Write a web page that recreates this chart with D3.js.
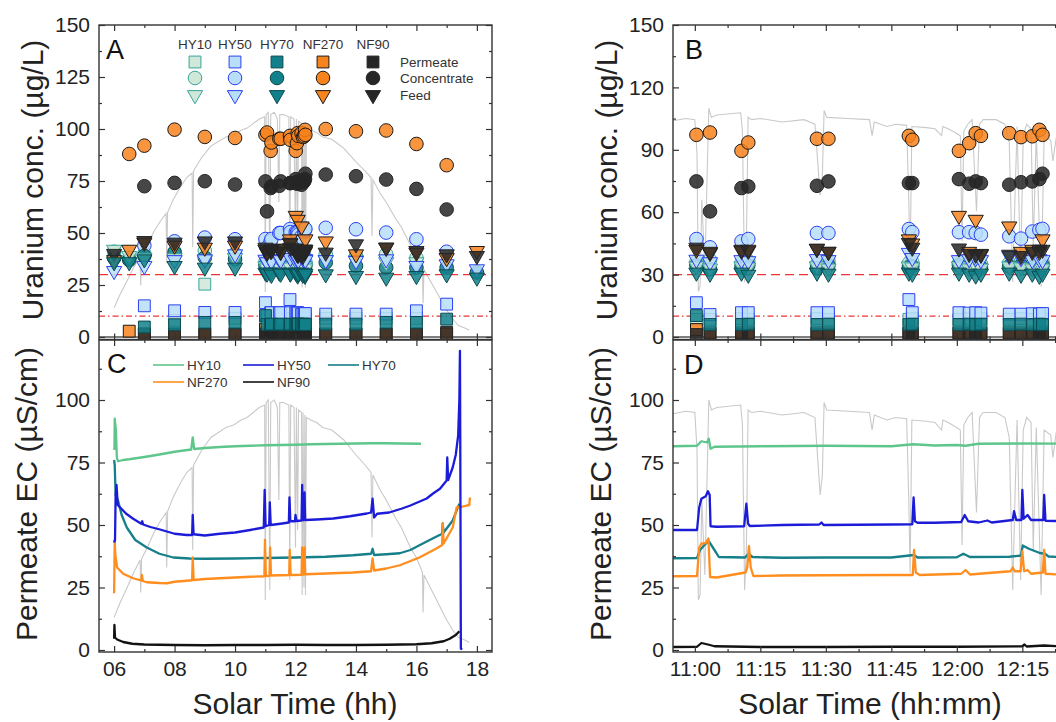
<!DOCTYPE html>
<html>
<head>
<meta charset="utf-8">
<script src="https://cdn.jsdelivr.net/npm/d3@7/dist/d3.min.js"></script>
<style>
  body { margin:0; background:#fff; }
  svg text { font-family: "Liberation Sans", Arial, sans-serif; }
</style>
</head>
<body>
<svg id="chart" width="1056" height="722"></svg>
<script>
// ---------------- data ----------------
var membranes = ["HY10","HY50","HY70","NF270","NF90"];
var sampleKinds = ["Permeate","Concentrate","Feed"];

// sampling times (solar time, decimal hours)
var sampleTime = [6.0, 6.5, 7.0, 8.0, 9.0, 10.0,
  11.006, 11.058, 11.178, 11.204, 11.466, 11.51, 11.817, 11.83, 12.008, 12.047, 12.072, 12.092, 12.2, 12.245, 12.288, 12.315, 12.327,
  13.0, 14.0, 15.0, 16.0, 17.0, 18.0];

// uranium (ug/L) per membrane and stream
var hy10Perm = [null, null, null, 8, 25.4, 9,
  8.5, 8.5, 8.8, 8.5, 8.8, 8.5, 8.5, 8.8, 8.5, 8.8, 8.5, 8.8, 8.5, 8.8, 8.5, 8.8, 8.5,
  9, 9, 9, 9, null, null];
var hy10Conc = [41, 38, 40, 41, 41.4, 40,
  36, 37, 35.5, 36.5, 35, 36.5, 35.5, 36, 35.5, 35, 36, 35, 35.5, 36, 35, 35.5, 36,
  39.8, 39, 39.8, 38, null, null];
var hy10Feed = [42, 39, 38, 38, 37, 38,
  34, 33, 34, 33.5, 34, 33, 34, 33.5, 34, 33, 34, 33, 34, 33.5, 33, 34, 33,
  37, 37, 36, 36, null, null];
var hy50Perm = [null, null, 15, 12.6, 11.8, 11.8,
  16.5, 10.8, 11.7, 11.7, 11.7, 11.7, 18, 11.7, 11.7, 11.5, 11.7, 11.5, 11, 11, 11.2, 11, 11.3,
  11, 11, 11, 12.6, 15.8, null];
var hy50Conc = [null, null, 44, 46, 47.8, 47,
  47.1, 43.1, 46, 47.1, 50, 50, 51.9, 50.4, 50.4, 50.4, 50, 49.2, 48.4, 47.3, 50.7, 51.5, 52,
  52.5, 51.8, 50.2, 47, 41, null];
var hy50Feed = [31.8, null, 34.2, 37, 37.4, 39.8,
  37.2, 36, 37, 36.5, 37.5, 37, 40.5, 38, 37, 37.5, 38, 37, 39, 38, 37, 37.5, 37,
  37, 36.6, 37.4, 34.2, 35, 32.6];
var hy70Perm = [null, null, 4.8, 5.9, 7, 7,
  10.3, 6, 6, 6.2, 6, 6.2, 6, 6.2, 6, 6.2, 6, 6.2, 6, 6.2, 6, 6.2, 6,
  6.2, 6.2, 7, 7, 8.6, null];
var hy70Conc = [38, 37, 39, 40.6, 38.2, 37.4,
  34.5, 32.5, 33.5, 34.5, 33, 34.5, 33.5, 34, 34.5, 33.5, 34, 33.5, 34, 34.5, 33.5, 34, 34.5,
  35.8, 34.2, 33.4, 33.4, 33.4, 31];
var hy70Feed = [36, 36, 37.4, 34.2, 33.4, 33.4,
  31, 30.5, 31, 30, 31, 30.5, 31, 30.5, 31, 30.5, 29.6, 30.5, 31, 30, 30.5, 29.5, 30.5,
  30.2, 29.4, 28.6, 29.4, 30.2, 28.6];
var nf270Perm = [null, 2.8, 1.5, 1.5, 1.5, 1.5,
  3.6, 2, 2, 2, 2, 2, 2, 2, 2, 2, 2, 2, 2, 2, 2, 2, 2,
  1.5, 1.5, 1.5, 1.5, 1.5, null];
var nf270Conc = [null, 88, 92, 99.7, 96.2, 95.7,
  97.2, 98.3, 89.5, 93.5, 95.3, 95.3, 96.7, 94.8, 89.5, 93.2, 98, 96.7, 98, 96.1, 96.5, 99.6, 97.2,
  100, 98.9, 99.3, 92.8, 82.6, null];
var nf270Feed = [37, 42, 45.4, 44, 43, 44,
  42, 41, 41.5, 42, 42.5, 41, 47, 45, 58.3, 41, 56.4, 40, 53.2, 41, 42, 41, 47,
  46, 39.8, 43, 40.6, 38, 41.4];
var nf90Perm = [null, null, 1.4, 1.2, 1.2, 1.2,
  1.2, 1.2, 1.2, 1.2, 1.2, 1.2, 1.2, 1.2, 1.2, 1.2, 1.2, 1.2, 1.2, 1.2, 1.2, 1.2, 1.2,
  1.2, 1.2, 1.2, 1.2, 2.3, null];
var nf90Conc = [null, null, 72.5, 74.1, 74.9, 73.3,
  74.8, 60.4, 71.6, 72.4, 72.7, 74.8, 74, 74, 75.9, 73.7, 74.8, 74, 73.2, 74.4, 74.8, 75.9, 78.5,
  78.1, 77.3, 75.7, 71.2, 61.3, null];
var nf90Feed = [40, null, 46.2, 45.4, 46, 46,
  43, 40.5, 42, 41.5, 42.4, 41, 45.3, 43, 42.6, 40, 39.6, 39.6, 39.6, 39, 41, 42, 42,
  40.6, 44.6, 43, 41.4, 39.8, 39];

var guideLimits = [30, 10];   // dashed, dash-dot red lines

// permeate EC over the day [hour, uS/cm]
var ecDayHY10 = [[6.01,80],[6.02,92.5],[6.06,88],[6.09,77],[6.13,75.5],[6.3,76],[6.5,76.3],[7.0,77.2],[7.5,78.2],[8.0,79.3],[8.55,80.2],[8.6,85],[8.65,80.4],[9.0,80.8],[9.5,81.2],[10.0,81.5],[10.5,81.7],[11.0,81.9],[11.5,82],[12.0,82.1],[12.5,82.3],[13.0,82.4],[13.5,82.5],[14.0,82.6],[14.5,82.7],[15.0,82.7],[15.5,82.6],[16.15,82.5]];
var ecDayHY50 = [[6.0,43],[6.03,44],[6.05,62],[6.08,66],[6.12,58],[6.2,57],[6.4,54.5],[6.63,52.5],[6.9,50.5],[6.93,51.5],[6.96,50.2],[7.2,49.2],[7.52,48.2],[8.0,46.5],[8.4,46],[8.58,46],[8.6,54],[8.63,46.3],[9.0,45.8],[9.5,46.5],[10.0,47],[10.5,48],[10.95,49],[10.98,64],[11.01,49.5],[11.13,50],[11.15,59],[11.18,50],[11.5,50.5],[11.78,51],[11.8,61],[11.83,51.5],[11.98,51.5],[12.0,54],[12.03,51.6],[12.2,51.8],[12.22,66],[12.24,52],[12.28,52],[12.3,63],[12.32,52],[12.7,52.2],[13.25,52.6],[13.8,53.5],[14.36,54.6],[14.5,55],[14.55,60.5],[14.6,53],[14.7,54.5],[15.1,55],[15.5,56.5],[15.8,57.8],[16.34,60.6],[16.55,62.6],[16.78,64.5],[17.0,67.8],[17.02,77],[17.05,68],[17.2,73],[17.3,78],[17.38,85.7],[17.42,100],[17.44,119.6],[17.45,86],[17.47,0.5],[17.52,0.3]];
var ecDayHY70 = [[6.0,76],[6.02,74],[6.05,62],[6.13,59.8],[6.25,54],[6.42,49],[6.7,44],[7.08,41],[7.5,38.5],[7.96,37],[8.5,36.6],[9.0,36.5],[10.0,36.6],[11.0,36.8],[12.0,37],[13.0,37.3],[13.9,37.9],[14.5,38.5],[14.55,40.5],[14.6,38],[15.0,38.3],[15.45,38.7],[15.8,40],[16.1,41.9],[16.55,44.7],[16.85,46.5],[16.87,50.6],[16.9,47],[17.2,51.8],[17.33,55.8],[17.42,58.5]];
var ecDayNF270 = [[6.0,22.7],[6.02,44],[6.04,38],[6.1,33],[6.3,30.5],[6.63,28.7],[6.9,27.8],[6.92,30],[6.95,27.6],[7.08,27.1],[7.5,26.8],[7.75,26.7],[8.0,27.3],[8.3,27.6],[8.58,27.9],[8.6,37],[8.63,28],[9.0,28.4],[10.0,29],[10.5,29.3],[10.97,29.5],[10.99,44],[11.02,29.6],[11.14,29.7],[11.16,41],[11.19,29.8],[11.79,30],[11.81,40],[11.84,30],[12.2,30.1],[12.22,41],[12.24,30.2],[12.28,30.2],[12.3,41],[12.32,30.3],[13.0,30.6],[13.9,31],[14.5,31.5],[14.55,36.6],[14.6,31.8],[15.0,32.6],[15.45,33.9],[16.1,37],[16.66,40.6],[16.85,42],[16.87,50.6],[16.9,42.6],[17.2,49],[17.33,57],[17.5,57.3],[17.67,57.8],[17.75,58],[17.77,61]];
var ecDayNF90 = [[6.0,4.5],[6.01,10],[6.03,5],[6.1,4.2],[6.3,3.2],[6.6,2.5],[7.0,2.2],[8.0,2],[9.0,1.9],[10.0,2],[11.0,2],[12.0,2.1],[13.0,2],[14.0,2],[15.0,2.1],[16.0,2.3],[16.5,2.7],[16.9,3.5],[17.1,4.5],[17.3,6],[17.42,7.5]];

// solar irradiance (relative, drawn in grey)
var solarDay = [[6.0,13],[6.2,19],[6.43,25],[6.65,31],[6.86,36],[6.88,23],[6.91,36.5],[7.1,41],[7.3,46.5],[7.5,51],[7.72,55],[7.74,33],[7.77,55.5],[7.95,61],[8.18,66.5],[8.4,71],[8.58,73],[8.6,40],[8.63,74],[8.9,80],[9.2,85],[9.45,87],[9.7,89],[9.95,90],[10.2,92],[10.4,93],[10.6,95],[10.8,97],[10.98,98],[11.0,20],[11.03,99],[11.1,100],[11.15,24],[11.18,99],[11.3,100],[11.4,97],[11.45,60],[11.48,99],[11.6,99],[11.78,98],[11.81,28],[11.84,98],[11.95,97],[12.0,41],[12.03,97],[12.07,48],[12.1,96],[12.2,95],[12.22,22],[12.25,95],[12.28,25],[12.31,94],[12.33,22],[12.36,93],[12.5,92],[12.7,91],[12.9,89],[13.2,88],[13.4,86],[13.6,84],[13.8,81],[14.0,78],[14.3,74],[14.5,71],[14.53,45],[14.56,70],[14.8,64],[15.0,60],[15.3,53],[15.5,49],[15.8,41],[16.0,37],[16.2,31],[16.22,15],[16.25,30],[16.5,24],[16.75,18],[17.0,12],[17.2,8],[17.4,5],[17.6,4],[17.75,3]];

// zoomed window, time in minutes after 11:00
var solarZoom = [[-5,94.5],[-2,95.5],[0,95],[0.5,80],[0.8,20],[1.2,22],[1.6,60],[2.3,30],[3.2,100],[3.8,96],[5,97],[10.5,98],[10.9,90],[11.4,24],[11.8,40],[12.2,96],[13,95],[15,95.5],[20,94],[25,95],[27.5,93],[28.2,75],[28.7,62],[29.2,70],[29.6,99],[30.2,96],[35,95.5],[40,95],[40.6,88],[41.1,94],[44,92],[46,93],[48.5,92.5],[49,60],[49.3,31],[49.7,92],[53,91.5],[55,91],[56.5,88],[56.8,92],[58,91],[59,90],[60.8,88],[61.2,42],[61.6,90],[62.5,93],[63.5,95],[64.5,55],[65.2,93],[66,95],[69,95],[71,93],[72,85],[72.8,24],[73.3,60],[73.8,92],[74.6,28],[75.2,88],[76,93],[77,91],[77.5,40],[78.2,89],[79.3,22],[80,88],[81.5,86],[82,77],[83,90],[85,88]];
var ecZoomHY10 = [[-5,81.5],[0.5,81.7],[1.5,83.5],[2.8,83],[3.2,84.5],[3.6,80.5],[4.5,81.3],[15,81.5],[30,81.7],[45,81.5],[50,82.3],[55,81.8],[60,82],[62,81.7],[65,82.5],[75,82.6],[85,82.5]];
var ecZoomHY50 = [[-5,48],[0.5,48],[1.0,57],[1.5,60.5],[2.5,61.5],[3.0,63.5],[3.4,62],[3.6,49.5],[5,49.3],[11.3,49.5],[11.8,58.5],[12.2,50.5],[12.6,49.6],[20,50],[28.5,50.2],[29,51],[29.5,50],[45,50.2],[49.8,50.3],[50.1,61],[50.4,51.5],[51,50.9],[55,50.9],[61,51.2],[61.8,54],[62.6,51.5],[65,51],[67,51.8],[68,51],[72.8,52],[73.1,55.5],[73.6,52],[74.8,52],[75,64],[75.3,52.5],[76.2,54],[77,52],[79.8,52],[80,62],[80.3,51.7],[85,51.5]];
var ecZoomHY70 = [[-5,36.7],[0.5,36.8],[1.2,40],[2.2,42],[3.2,43.5],[4.5,40],[5.5,37.2],[11.5,37],[12.3,38.5],[13.2,37.2],[20,36.9],[30,37],[45,37],[50.2,38],[51,37],[60,37.1],[61.5,38.5],[63,37.2],[72,37.3],[74.7,37.8],[75.1,41.8],[76.5,40.5],[79,38.8],[80.2,38.5],[81,37.4],[85,37]];
var ecZoomNF270 = [[-5,29.5],[0.5,29.6],[1.0,41],[1.5,42.5],[2.5,42.8],[3.1,44.6],[3.5,29.2],[5,29],[11.6,31],[12,33],[12.4,41.5],[12.8,33],[13.4,29.6],[20,29.8],[30,29.9],[45,30],[49.9,30],[50.2,40],[50.6,31],[51.5,30],[61,30.5],[62,32],[63,30.2],[72.3,31.5],[72.8,33],[73.3,31.5],[74.6,31.5],[75,39.5],[75.4,31.5],[76.2,32],[77,30.5],[79.7,31],[80,40],[80.3,30.5],[85,30]];
var ecZoomNF90 = [[-5,1.2],[0.5,1.3],[1.5,2.8],[3,2.2],[4.5,1.5],[15,1.2],[30,1.2],[45,1.3],[60,1.3],[75,1.5],[75.5,2.2],[76,1.4],[80,1.8],[85,1.4]];

// ---------------- styles ----------------
var markerFill   = {HY10:"#cfe8d7", HY50:"#b9defa", HY70:"#12808a", NF270:"#f7831c", NF90:"#262626"};
var markerStroke = {HY10:"#38a49d", HY50:"#2b40f2", HY70:"#0b4a50", NF270:"#1a1a1a", NF90:"#262626"};
var lineColor    = {HY10:"#5ec68b", HY50:"#1c1cd8", HY70:"#16808a", NF270:"#ff8e1e", NF90:"#121212"};
var greyLine = "#c9c9c9", axisColor = "#333", textColor = "#222";

// drawing order: all permeates, then concentrates, then feeds; HY70 on top
var drawOrder = ["HY10","HY50","NF270","NF90","HY70"];
var streamValues = {
  HY10: {Permeate:hy10Perm, Concentrate:hy10Conc, Feed:hy10Feed},
  HY50: {Permeate:hy50Perm, Concentrate:hy50Conc, Feed:hy50Feed},
  HY70: {Permeate:hy70Perm, Concentrate:hy70Conc, Feed:hy70Feed},
  NF270: {Permeate:nf270Perm, Concentrate:nf270Conc, Feed:nf270Feed},
  NF90: {Permeate:nf90Perm, Concentrate:nf90Conc, Feed:nf90Feed}
};
var sampleTable = [];
sampleKinds.forEach(function(k){
  drawOrder.forEach(function(m){ sampleTable.push({m:m, k:k, v:streamValues[m][k]}); });
});
var ecDay = {HY10:ecDayHY10, HY50:ecDayHY50, HY70:ecDayHY70, NF270:ecDayNF270, NF90:ecDayNF90};
var ecZoom = {HY10:ecZoomHY10, HY50:ecZoomHY50, HY70:ecZoomHY70, NF270:ecZoomNF270, NF90:ecZoomNF90};

// ---------------- scales ----------------
var svg = d3.select("#chart");
var xDay  = d3.scaleLinear().domain([5.5, 18.5]).range([99, 492]);
var xZoom = d3.scaleLinear().domain([10 + 55/60, 12 + 25/60]).range([673, 1066]);
var yUA = d3.scaleLinear().domain([-1.2, 150]).range([339.5, 25]);
var yUB = d3.scaleLinear().domain([-1.2, 150]).range([339.5, 25]);
var yEC = d3.scaleLinear().domain([-0.8, 124]).range([652, 340]);
// hidden irradiance axes
var yIrrA = d3.scaleLinear().domain([0, 100]).range([yUA(0), yUA(108)]);
var yIrrB = d3.scaleLinear().domain([0, 100]).range([yUB(0), yUB(110)]);
var yIrrC = d3.scaleLinear().domain([0, 100]).range([yEC(0), yEC(100)]);

function minToHour(m){ return 11 + m/60; }
function fmtHM(d){ var h = Math.floor(d + 1e-6), m = Math.round((d - h)*60); return h + ":" + (m < 10 ? "0" : "") + m; }

var defs = svg.append("defs");
function makeClip(id, x, y){
  defs.append("clipPath").attr("id", id).append("rect")
    .attr("x", x.range()[0]).attr("y", y.range()[1])
    .attr("width", x.range()[1]-x.range()[0]).attr("height", y.range()[0]-y.range()[1]);
  return svg.append("g").attr("clip-path", "url(#"+id+")");
}

// ---------------- frames ----------------
function drawFrame(x, y, xMajor, xMinor, yMajor, yMinor, xFmt, yFmt){
  var x0 = x.range()[0], x1 = x.range()[1], y0 = y.range()[0], y1 = y.range()[1];
  var g = svg.append("g");
  g.append("g").attr("transform","translate(0,"+y0+")")
    .call(d3.axisBottom(x).tickValues(xMajor).tickSize(-6).tickSizeOuter(0).tickPadding(9).tickFormat(xFmt ? xFmt : ""));
  g.append("g").attr("transform","translate(0,"+y0+")")
    .call(d3.axisBottom(x).tickValues(xMinor).tickSize(-3).tickSizeOuter(0).tickFormat(""));
  g.append("g").attr("transform","translate(0,"+y1+")")
    .call(d3.axisTop(x).tickValues(xMajor).tickSize(-6).tickSizeOuter(0).tickFormat(""));
  g.append("g").attr("transform","translate(0,"+y1+")")
    .call(d3.axisTop(x).tickValues(xMinor).tickSize(-3).tickSizeOuter(0).tickFormat(""));
  g.append("g").attr("transform","translate("+x0+",0)")
    .call(d3.axisLeft(y).tickValues(yMajor).tickSize(-6).tickSizeOuter(0).tickPadding(9).tickFormat(yFmt));
  g.append("g").attr("transform","translate("+x0+",0)")
    .call(d3.axisLeft(y).tickValues(yMinor).tickSize(-3).tickSizeOuter(0).tickFormat(""));
  g.append("g").attr("transform","translate("+x1+",0)")
    .call(d3.axisRight(y).tickValues(yMajor).tickSize(-6).tickSizeOuter(0).tickFormat(""));
  g.append("g").attr("transform","translate("+x1+",0)")
    .call(d3.axisRight(y).tickValues(yMinor).tickSize(-3).tickSizeOuter(0).tickFormat(""));
  g.selectAll(".domain").remove();
  g.selectAll(".tick line").attr("stroke", axisColor).attr("stroke-width", 1.2);
  g.selectAll(".tick text").attr("font-size", 21).attr("fill", textColor)
    .attr("font-family", "'Liberation Sans', Arial, sans-serif");
  g.append("rect").attr("x", x0).attr("y", y1).attr("width", x1-x0).attr("height", y0-y1)
    .attr("fill","none").attr("stroke", axisColor).attr("stroke-width", 1.4);
}

// ---------------- marks ----------------
var symbolPath = {
  Permeate: d3.symbol().type(d3.symbolSquare).size(140)(),
  Concentrate: d3.symbol().type(d3.symbolCircle).size(145)(),
  Feed: d3.symbol().type(d3.symbolTriangle).size(100)()
};

function drawUranium(g, x, y, yIrr, solar, solarX){
  g.append("path").datum(solar)
    .attr("d", d3.line().x(function(d){ return x(solarX(d[0])); }).y(function(d){ return yIrr(d[1]); }))
    .attr("fill","none").attr("stroke", greyLine).attr("stroke-width", 1.1);
  g.append("line").attr("x1", x.range()[0]).attr("x2", x.range()[1]).attr("y1", y(0)).attr("y2", y(0))
    .attr("stroke", "#555").attr("stroke-width", 1.4);
  g.append("line").attr("x1", x.range()[0]).attr("x2", x.range()[1]).attr("y1", y(guideLimits[0])).attr("y2", y(guideLimits[0]))
    .attr("stroke", "#ec3434").attr("stroke-width", 1.2).attr("stroke-dasharray", "9,5");
  g.append("line").attr("x1", x.range()[0]).attr("x2", x.range()[1]).attr("y1", y(guideLimits[1])).attr("y2", y(guideLimits[1]))
    .attr("stroke", "#ec3434").attr("stroke-width", 1.2).attr("stroke-dasharray", "6,3,1.5,3");
  sampleTable.forEach(function(s){
    var pts = sampleTime.map(function(t, i){ return {t:t, v:s.v[i]}; })
      .filter(function(d){ return d.v != null && d.t >= x.domain()[0] - 0.05 && d.t <= x.domain()[1] + 0.05; });
    g.selectAll(null).data(pts).enter().append("path")
      .attr("d", symbolPath[s.k])
      .attr("transform", function(d){ return "translate("+x(d.t)+","+y(d.v)+")" + (s.k == "Feed" ? " rotate(180)" : ""); })
      .attr("fill", markerFill[s.m]).attr("fill-opacity", 0.85)
      .attr("stroke", markerStroke[s.m]).attr("stroke-width", 1);
  });
}

function drawEC(g, x, y, solar, series, tx){
  g.append("path").datum(solar)
    .attr("d", d3.line().x(function(d){ return x(tx(d[0])); }).y(function(d){ return yIrrC(d[1]); }))
    .attr("fill","none").attr("stroke", greyLine).attr("stroke-width", 1.1);
  ["HY10","HY70","NF270","HY50","NF90"].forEach(function(m){
    g.append("path").datum(series[m])
      .attr("d", d3.line().x(function(d){ return x(tx(d[0])); }).y(function(d){ return y(d[1]); }))
      .attr("fill","none").attr("stroke", lineColor[m]).attr("stroke-width", 2.3)
      .attr("stroke-linejoin","round");
  });
}

function ident(t){ return t; }

var gA = makeClip("clipA", xDay, yUA);
drawUranium(gA, xDay, yUA, yIrrA, solarDay, ident);
var gB = makeClip("clipB", xZoom, yUB);
drawUranium(gB, xZoom, yUB, yIrrB, solarZoom, minToHour);
var gC = makeClip("clipC", xDay, yEC);
drawEC(gC, xDay, yEC, solarDay, ecDay, ident);
var gD = makeClip("clipD", xZoom, yEC);
drawEC(gD, xZoom, yEC, solarZoom, ecZoom, minToHour);

var dayMajor = [6,8,10,12,14,16,18], dayMinor = [7,9,11,13,15,17];
var zoomMajor = [11, 11.25, 11.5, 11.75, 12, 12.25], zoomMinor = [11.125, 11.375, 11.625, 11.875, 12.125, 12.375];
var fmt2 = d3.format("02d"), fmtInt = d3.format("d");

drawFrame(xDay, yUA, dayMajor, dayMinor, [0,25,50,75,100,125,150], [12.5,37.5,62.5,87.5,112.5,137.5], null, fmtInt);
drawFrame(xZoom, yUB, zoomMajor, zoomMinor, [0,30,60,90,120,150], [15,45,75,105,135], null, fmtInt);
drawFrame(xDay, yEC, dayMajor, dayMinor, [0,25,50,75,100], [12.5,37.5,62.5,87.5,112.5], fmt2, fmtInt);
drawFrame(xZoom, yEC, zoomMajor, zoomMinor, [0,25,50,75,100], [12.5,37.5,62.5,87.5,112.5], fmtHM, fmtInt);

// ---------------- legends ----------------
var legA = svg.append("g");
var legColX = [195, 235, 277, 323, 373], legRowY = [62, 78, 95];
membranes.forEach(function(m, i){
  legA.append("text").attr("x", legColX[i]).attr("y", 49).attr("text-anchor","middle")
    .attr("font-size", 13.5).attr("fill", "#333").text(m);
  sampleKinds.forEach(function(k, j){
    legA.append("path").attr("d", symbolPath[k])
      .attr("transform", "translate("+legColX[i]+","+legRowY[j]+")" + (k == "Feed" ? " rotate(180)" : ""))
      .attr("fill", markerFill[m]).attr("stroke", markerStroke[m]).attr("stroke-width", 1);
  });
});
sampleKinds.forEach(function(k, j){
  legA.append("text").attr("x", 400).attr("y", legRowY[j] + 5).attr("font-size", 13.5)
    .attr("fill", "#333").text(k);
});

var legC = svg.append("g");
var legPos = {HY10:[153,365], HY50:[243,365], HY70:[328,365], NF270:[153,382], NF90:[243,382]};
membranes.forEach(function(m){
  var p = legPos[m];
  legC.append("line").attr("x1", p[0]).attr("x2", p[0]+31).attr("y1", p[1]).attr("y2", p[1])
    .attr("stroke", lineColor[m]).attr("stroke-width", 1.6);
  legC.append("text").attr("x", p[0]+34).attr("y", p[1]+5).attr("font-size", 13.5)
    .attr("fill", "#333").text(m);
});

// ---------------- panel letters and titles ----------------
[["A",106,59],["B",685,59],["C",107,373],["D",684,374]].forEach(function(l){
  svg.append("text").attr("x", l[1]).attr("y", l[2]).attr("font-size", 27).attr("fill", "#111").text(l[0]);
});
function yTitle(txt, x, y){
  svg.append("text").attr("transform", "translate("+x+","+y+") rotate(-90)")
    .attr("text-anchor","middle").attr("font-size", 30).attr("fill", textColor).text(txt);
}
yTitle("Uranium conc. (\u00b5g/L)", 43, 180);
yTitle("Permeate EC (\u00b5S/cm)", 37, 494);
yTitle("Uranium conc. (\u00b5g/L)", 617, 180);
yTitle("Permeate EC (\u00b5S/cm)", 611, 494);
svg.append("text").attr("x", 295).attr("y", 714).attr("text-anchor","middle")
  .attr("font-size", 30).attr("fill", textColor).text("Solar Time (hh)");
svg.append("text").attr("x", 870).attr("y", 714).attr("text-anchor","middle")
  .attr("font-size", 30).attr("fill", textColor).text("Solar Time (hh:mm)");
</script>
</body>
</html>
